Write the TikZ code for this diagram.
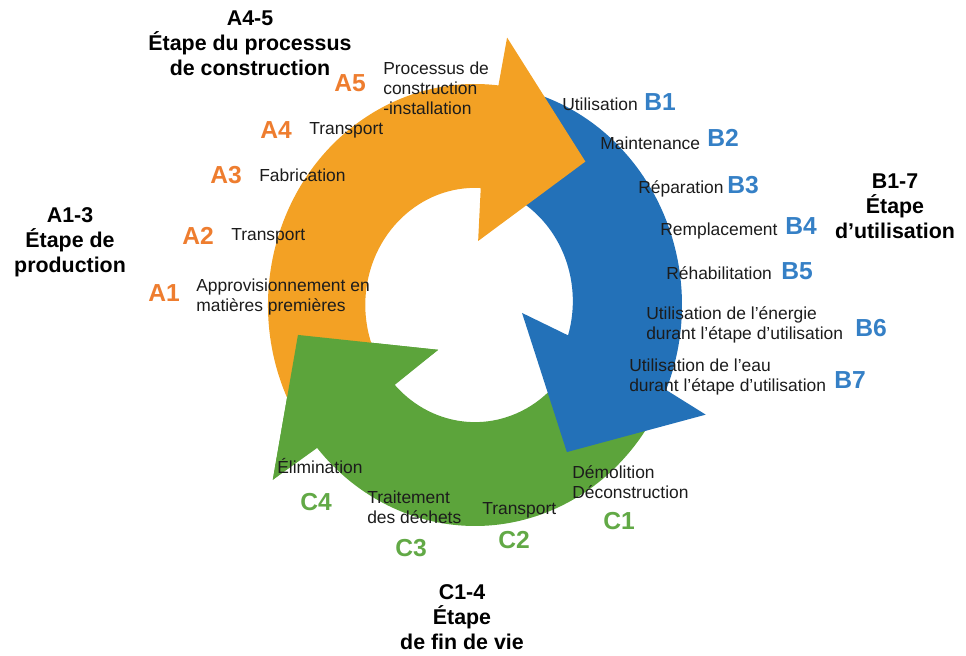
\documentclass[tikz,border=0pt]{standalone}
\usepackage{fontspec}
\setmainfont{Liberation Sans}
\usepackage{xcolor, tikz}
\definecolor{orangeArrow}{HTML}{F3A124}
\definecolor{blueArrow}{HTML}{2371B8}
\definecolor{greenArrow}{HTML}{5CA43B}
\definecolor{orangeCode}{HTML}{EE7D2F}
\definecolor{blueCode}{HTML}{3580C6}
\definecolor{greenCode}{HTML}{62A946}
\definecolor{bodyText}{HTML}{1C1C1C}
\tikzset{
    txt/.style={font=\fontsize{12.4}{14.2}\selectfont, inner sep=0pt, align=left, text=bodyText, anchor=west},
    code/.style={font=\fontsize{17.5}{20}\selectfont\bfseries, inner sep=0pt},
    stage/.style={font=\fontsize{15.2}{17.8}\selectfont\bfseries, inner sep=0pt, align=center},
}

\begin{document}
\begin{tikzpicture}[x=0.025cm, y=0.025cm]
    \useasboundingbox (0,0) rectangle (966,656);
    \newcommand\posCX{475}
    \newcommand\posCY{351}

    \begin{scope}[shift={(\posCX,\posCY)}, xscale=207, yscale=221]
        \fill[greenArrow] (330:1) arc[start angle=330, end angle=220.3, radius=1] -- (219:1.257) -- (189:0.866) -- (228.7:0.27) -- (223:0.53) arc[start angle=223, end angle=330, radius=0.53] -- cycle;
        \fill[blueArrow] (75:1) arc[start angle=75, end angle=-22.6, radius=1] -- (336:1.22) -- (303.7:0.80) -- (351:0.23) -- (343:0.47) arc[start angle=-17, end angle=75, radius=0.53] -- cycle;
        \fill[orangeArrow] (210:1) arc[start angle=210, end angle=83.5, radius=1] -- (82.7:1.22) -- (50.6:0.84) -- (87:0.29) -- (87:0.53) arc[start angle=87, end angle=210, radius=0.53] -- cycle;
        \fill[greenArrow] (219:1.257) -- (189:0.866) -- (228.7:0.27) -- cycle;
    \end{scope}

    \node[stage] (stageA45) at (250, 613) {A4-5\\Étape du processus\\de construction};
    \node[stage] (stageA13) at (70, 414) {A1-3\\Étape de\\production};
    \node[stage] (stageB17) at (895, 450) {B1-7\\Étape\\d’utilisation};
    \node[stage] (stageC14) at (462, 39) {C1-4\\Étape\\de fin de vie};

    \node[code, text=orangeCode] (codeA5) at (350, 573) {A5};
    \node[code, text=orangeCode] (codeA4) at (276, 526) {A4};
    \node[code, text=orangeCode] (codeA3) at (226, 481) {A3};
    \node[code, text=orangeCode] (codeA2) at (198, 420) {A2};
    \node[code, text=orangeCode] (codeA1) at (164, 363) {A1};

    \node[txt] (txtA5) at (383, 568) {Processus de\\construction\\-installation};
    \node[txt] (txtA4) at (309, 526) {Transport};
    \node[txt] (txtA3) at (259, 481) {Fabrication};
    \node[txt] (txtA2) at (231, 420) {Transport};
    \node[txt] (txtA1) at (196, 359) {Approvisionnement en\\matières premières};

    \node[code, text=blueCode] (codeB1) at (660, 554) {B1};
    \node[code, text=blueCode] (codeB2) at (723, 518) {B2};
    \node[code, text=blueCode] (codeB3) at (743, 471) {B3};
    \node[code, text=blueCode] (codeB4) at (801, 430) {B4};
    \node[code, text=blueCode] (codeB5) at (797, 385) {B5};
    \node[code, text=blueCode] (codeB6) at (871, 328) {B6};
    \node[code, text=blueCode] (codeB7) at (850, 276) {B7};

    \node[txt] (txtB1) at (562, 552) {Utilisation};
    \node[txt] (txtB2) at (600, 513) {Maintenance};
    \node[txt] (txtB3) at (638, 467) {Réparation};
    \node[txt] (txtB4) at (660, 425) {Remplacement};
    \node[txt] (txtB5) at (666, 383) {Réhabilitation};
    \node[txt] (txtB6) at (646, 331) {Utilisation de l'énergie\\durant l'étape d'utilisation};
    \node[txt] (txtB7) at (629, 279) {Utilisation de l'eau\\durant l'étape d'utilisation};

    \node[code, text=greenCode] (codeC1) at (619, 135) {C1};
    \node[code, text=greenCode] (codeC2) at (514, 116) {C2};
    \node[code, text=greenCode] (codeC3) at (411, 108) {C3};
    \node[code, text=greenCode] (codeC4) at (316, 154) {C4};

    \node[txt] (txtC1) at (572, 174) {Démolition\\Déconstruction};
    \node[txt] (txtC2) at (482, 146) {Transport};
    \node[txt] (txtC3) at (367, 149) {Traitement\\des déchets};
    \node[txt] (txtC4) at (277, 190) {Élimination};
\end{tikzpicture}
\end{document}
